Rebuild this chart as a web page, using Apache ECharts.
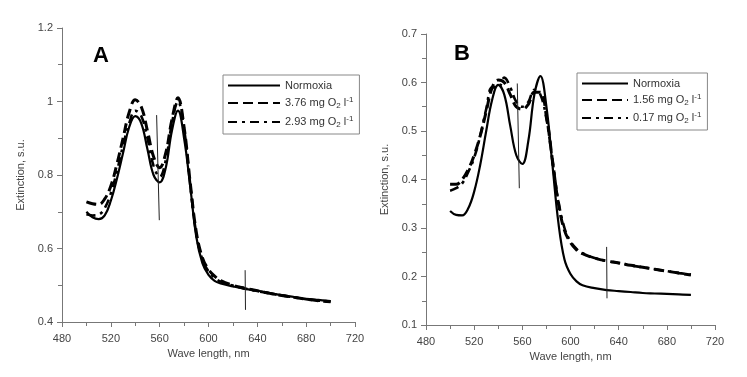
<!DOCTYPE html>
<html>
<head>
<meta charset="utf-8">
<script src="https://cdn.jsdelivr.net/npm/echarts@6/dist/echarts.min.js"></script>
<style>
  html, body { margin: 0; padding: 0; background: #fff; }
  #chart { width: 747px; height: 377px; }
</style>
</head>
<body>
<div id="chart"></div>
<script>
// wavelength grid, nm (same for both panels)
const wavelengths = [500, 505, 510, 515, 520, 525, 530, 535, 540, 545, 550, 555, 560, 565, 570, 575,
  580, 585, 590, 595, 600, 605, 610, 620, 630, 640, 650, 660, 670, 680, 690, 700];

// panel A
const normoxiaA = [0.700, 0.685, 0.680, 0.690, 0.730, 0.790, 0.860, 0.930, 0.960, 0.940, 0.870, 0.800, 0.780, 0.820, 0.920, 0.975,
  0.900, 0.770, 0.632, 0.560, 0.528, 0.512, 0.505, 0.497, 0.490, 0.485, 0.479, 0.473, 0.468, 0.463, 0.460, 0.457];
const o2_376 = [0.727, 0.722, 0.720, 0.735, 0.770, 0.830, 0.900, 0.970, 1.005, 0.985, 0.920, 0.850, 0.820, 0.860, 0.950, 1.010,
  0.930, 0.780, 0.645, 0.575, 0.543, 0.525, 0.513, 0.500, 0.492, 0.485, 0.478, 0.472, 0.467, 0.462, 0.458, 0.455];
const o2_293 = [0.693, 0.690, 0.692, 0.710, 0.750, 0.810, 0.880, 0.940, 0.975, 0.960, 0.900, 0.825, 0.795, 0.840, 0.940, 1.000,
  0.925, 0.775, 0.640, 0.570, 0.538, 0.520, 0.510, 0.499, 0.491, 0.484, 0.478, 0.472, 0.467, 0.462, 0.458, 0.456];
const markerA1 = [[557.5, 0.963], [559.7, 0.677]];
const markerA2 = [[630, 0.541], [630.3, 0.433]];

// panel B
const normoxiaB = [0.335, 0.327, 0.326, 0.340, 0.375, 0.430, 0.500, 0.565, 0.595, 0.575, 0.510, 0.450, 0.432, 0.480, 0.575, 0.613,
  0.550, 0.430, 0.310, 0.235, 0.205, 0.190, 0.182, 0.176, 0.172, 0.170, 0.168, 0.166, 0.165, 0.164, 0.163, 0.162];
const o2_156 = [0.390, 0.390, 0.400, 0.420, 0.450, 0.490, 0.540, 0.590, 0.605, 0.600, 0.575, 0.550, 0.545, 0.555, 0.580, 0.580,
  0.530, 0.440, 0.350, 0.295, 0.270, 0.255, 0.247, 0.238, 0.232, 0.228, 0.223, 0.219, 0.215, 0.211, 0.207, 0.203];
const o2_017 = [0.377, 0.382, 0.392, 0.415, 0.445, 0.490, 0.545, 0.590, 0.590, 0.610, 0.590, 0.560, 0.550, 0.560, 0.585, 0.575,
  0.525, 0.440, 0.355, 0.300, 0.272, 0.257, 0.248, 0.238, 0.232, 0.228, 0.223, 0.219, 0.215, 0.211, 0.207, 0.204];
const markerB1 = [[555.8, 0.598], [557.5, 0.382]];
const markerB2 = [[630, 0.261], [630.3, 0.155]];

const legendA = ['Normoxia', '3.76 mg O2 l-1', '2.93 mg O2 l-1'];
const legendB = ['Normoxia ', '1.56 mg O2 l-1', '0.17 mg O2 l-1'];

const FONT = '"Liberation Sans", Arial, sans-serif';
const pairs = (ys) => wavelengths.map((x, i) => [x, ys[i]]);

// legend text with subscript / superscript
const legendText = (name) => {
  const m = name.match(/^(.*) O2 l(-1)$/);
  if (!m) return '{t|' + name.trim() + '}';
  return '{t|' + m[1] + ' O}{sub|2}{t| l}{sup|' + m[2] + '}';
};
const richText = {
  t: { fontSize: 11, color: '#333', fontFamily: FONT, lineHeight: 14 },
  sub: { fontSize: 8, color: '#333', fontFamily: FONT, verticalAlign: 'bottom', padding: [5, 0, 0, 0] },
  sup: { fontSize: 8, color: '#333', fontFamily: FONT, verticalAlign: 'top', padding: [0, 0, 5, 0] }
};

const solid = { type: 'solid', width: 2.2 };
const dashed = { type: [10, 5], width: 3 };
const dashDot = { type: [9, 5, 3, 5], width: 2.6 };

const curve = (name, ys, style, idx) => ({
  name, type: 'line', data: pairs(ys), xAxisIndex: idx, yAxisIndex: idx,
  symbol: 'none', smooth: 0.4, color: '#000',
  lineStyle: Object.assign({ color: '#000' }, style)
});
const marker = (data, idx) => ({
  type: 'line', data, xAxisIndex: idx, yAxisIndex: idx, symbol: 'none', silent: true,
  lineStyle: { color: '#222', width: 1 }
});

const axisCommon = {
  axisLine: { show: true, lineStyle: { color: '#777' } },
  axisTick: { show: true, length: 5, lineStyle: { color: '#777' } },
  minorTick: { show: true, splitNumber: 2, length: 4, lineStyle: { color: '#777' } },
  splitLine: { show: false },
  axisLabel: { color: '#444', fontSize: 11, fontFamily: FONT },
  nameTextStyle: { color: '#444', fontSize: 11, fontFamily: FONT }
};
const xAxis = (idx) => Object.assign({}, axisCommon, {
  type: 'value', gridIndex: idx, min: 480, max: 720, interval: 40,
  name: 'Wave length, nm', nameLocation: 'middle', nameGap: 26,
  axisLabel: Object.assign({}, axisCommon.axisLabel, { margin: 11 })
});
const yAxis = (idx, min, max, interval) => Object.assign({}, axisCommon, {
  type: 'value', gridIndex: idx, min, max, interval,
  name: 'Extinction, s.u.', nameLocation: 'middle', nameGap: 36,
  axisLabel: Object.assign({}, axisCommon.axisLabel, { margin: 9 })
});
const legend = (names, left, top, itemWidth, gap) => ({
  data: names, orient: 'vertical', left, top, itemWidth, itemHeight: 12, itemGap: gap,
  borderColor: '#888', borderWidth: 1, padding: [5, 6, 5, 4], selectedMode: false,
  itemStyle: { opacity: 0 },
  formatter: legendText, textStyle: { rich: richText }
});

const chart = echarts.init(document.getElementById('chart'));
chart.setOption({
  animation: false,
  backgroundColor: '#fff',
  title: [
    { text: 'A', left: 88, top: 40, textStyle: { fontSize: 22, fontWeight: 'bold', color: '#000', fontFamily: FONT } },
    { text: 'B', left: 449, top: 38, textStyle: { fontSize: 22, fontWeight: 'bold', color: '#000', fontFamily: FONT } }
  ],
  legend: [legend(legendA, 223, 75, 52, 5), legend(legendB, 577, 73, 46, 4)],
  grid: [
    { left: 62, right: 392, top: 28, bottom: 55 },
    { left: 426, right: 32, top: 34, bottom: 52 }
  ],
  xAxis: [xAxis(0), xAxis(1)],
  yAxis: [yAxis(0, 0.4, 1.2, 0.2), yAxis(1, 0.1, 0.7, 0.1)],
  series: [
    curve(legendA[0], normoxiaA, solid, 0),
    curve(legendA[1], o2_376, dashed, 0),
    curve(legendA[2], o2_293, dashDot, 0),
    marker(markerA1, 0),
    marker(markerA2, 0),
    curve(legendB[0], normoxiaB, solid, 1),
    curve(legendB[1], o2_156, dashed, 1),
    curve(legendB[2], o2_017, dashDot, 1),
    marker(markerB1, 1),
    marker(markerB2, 1)
  ]
});
</script>
</body>
</html>
